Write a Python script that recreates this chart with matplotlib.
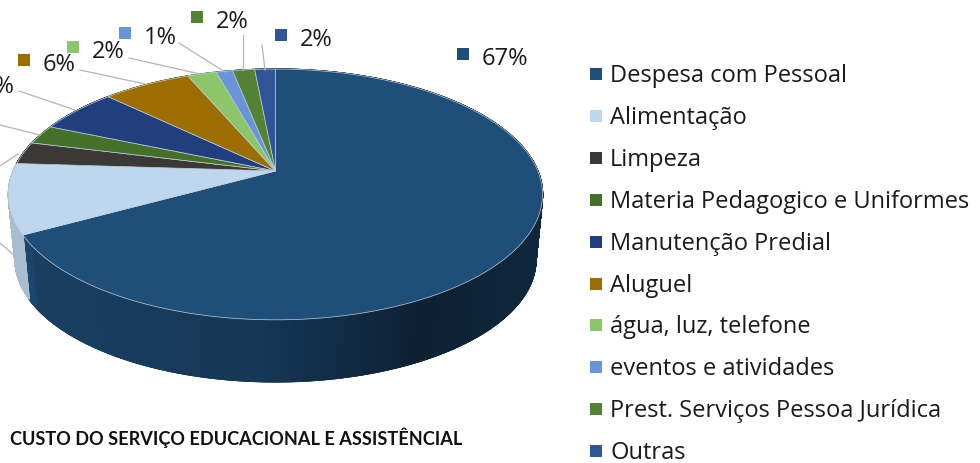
import numpy as np
import matplotlib
matplotlib.use("Agg")
import matplotlib.pyplot as plt
from matplotlib.collections import PolyCollection

categorias = ["Despesa com Pessoal", "Alimentação", "Limpeza", "Materia Pedagogico e Uniformes",
              "Manutenção Predial", "Aluguel", "água, luz, telefone", "eventos e atividades",
              "Prest. Serviços Pessoa Jurídica", "Outras"]
valores = [67.0, 9.0, 2.9, 2.5, 5.8, 6.4, 2.1, 1.2, 1.6, 1.5]
rotulos = ["67%", "9%", "3%", "2%", "6%", "6%", "2%", "1%", "2%", "2%"]
cores = ["#1f4e79", "#bfd7ee", "#3b3838", "#44702c", "#203f7c",
         "#9c6d00", "#8cc56a", "#6a94d8", "#548235", "#2f5597"]
titulo = "CUSTO DO SERVIÇO EDUCACIONAL E ASSISTÊNCIAL"

# tudo em pixels da imagem
fig = plt.figure(figsize=(9.8, 4.63), dpi=100)
ax = fig.add_axes([0, 0, 1, 1])
ax.set_xlim(0, 980)
ax.set_ylim(463, 0)
ax.axis("off")

# perspectiva do disco (centro, raio, inclinacao)
cx, cy = 275.5, 171
A, Q, P = 262.3, 121, 0.187


def topo(frac):
    t = 2 * np.pi * np.asarray(frac)
    X, Y = np.sin(t), np.cos(t)
    w = 1 + P * Y
    return cx + A * X / w, cy - Q * Y / w


def base(frac):
    x, y = topo(frac)
    return cx + (x - cx) * 0.975, cy + (y - cy) * 0.975 + 65.7


def sombra(x):
    return np.interp(x, [0, 30, 32, 250, 420, 545], [0.88, 0.88, 0.8, 0.72, 0.42, 0.5])


limites = np.cumsum([0] + valores) / 100

# parede lateral
quads, cores_q = [], []
for i in range(len(valores)):
    f = np.linspace(limites[i], limites[i + 1], max(int(valores[i] * 40), 2))
    xt, yt = topo(f)
    xb, yb = base(f)
    rgb = np.array(matplotlib.colors.to_rgb(cores[i]))
    for j in range(len(f) - 1):
        quads.append([(xt[j], yt[j]), (xt[j + 1], yt[j + 1]), (xb[j + 1], yb[j + 1]), (xb[j], yb[j])])
        cores_q.append(rgb * sombra((xt[j] + xt[j + 1]) / 2))
ax.add_collection(PolyCollection(quads, facecolors=cores_q, edgecolors=cores_q, linewidths=1.0))

# fatias de cima
for i in range(len(valores)):
    f = np.linspace(limites[i], limites[i + 1], max(int(valores[i] * 8), 2))
    xt, yt = topo(f)
    ax.fill(np.r_[cx, xt], np.r_[cy, yt], color=cores[i], ec="#c4ced8", lw=0.5)

# linhas de chamada
chamadas = [[(19, 91), (75, 110)], [(80, 70), (145, 84)], [(129, 58), (200, 74)],
            [(179, 43), (225, 72)], [(243, 35), (243, 70)], [(262, 45), (265, 70)],
            [(0, 125), (40, 135)], [(0, 166), (18, 154)], [(0, 243), (15, 256)]]
for c in chamadas:
    ax.plot(*zip(*c), color="#b4b4b4", lw=0.9, zorder=1)

# rotulos: indice da serie, x do quadrado, y do texto
pos_rotulos = [(0, 463, 57), (9, 281, 38), (8, 197, 20), (7, 125, 36), (6, 73, 50), (5, 24, 63), (4, -37, 85)]
for i, x, y in pos_rotulos:
    ax.plot(x, y - 3, "s", ms=8.2, mfc=cores[i], mec=cores[i], mew=0)
    ax.text(x + 19, y + 2, rotulos[i], fontsize=17, family="Open Sans", color="#1a1a1a", va="center", ha="left")

# legenda
for i, nome in enumerate(categorias):
    y = 74 + i * 41.9
    ax.plot(596, y, "s", ms=8.6, mfc=cores[i], mec=cores[i], mew=0)
    ax.text(610, y + 2, nome, fontsize=17, family="Open Sans", color="#1a1a1a", va="center", ha="left")

ax.text(10, 438, titulo, fontsize=13.1, family="Lato", weight="bold", color="#111111", va="center", ha="left")

fig.savefig("out.png", dpi=100)
